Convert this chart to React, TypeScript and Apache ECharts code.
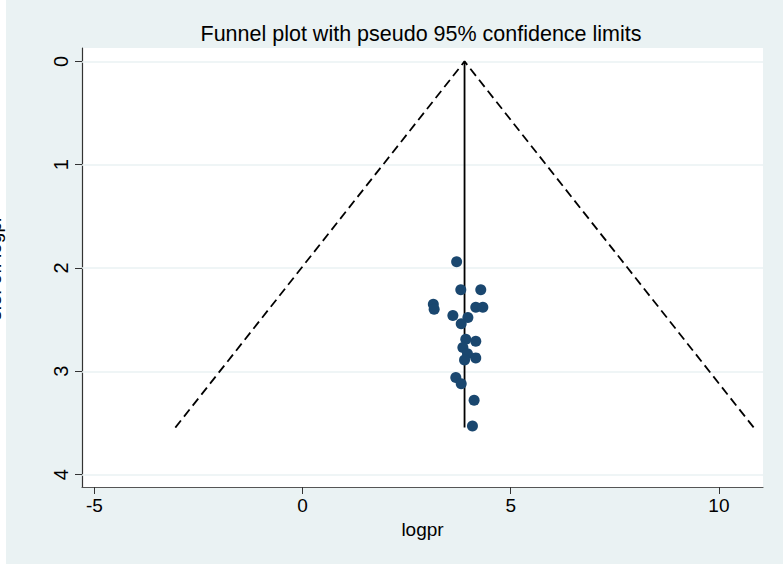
import React, { useEffect, useRef } from "react";
import * as echarts from "echarts";

const logpr = [3.70, 3.80, 4.28, 3.14, 3.16, 4.16, 4.33, 3.61, 3.97, 3.81, 3.92, 4.16, 3.85, 3.96, 3.89, 4.16, 3.68, 3.81, 4.12, 4.08];
const seLogpr = [1.94, 2.21, 2.21, 2.35, 2.40, 2.38, 2.38, 2.46, 2.48, 2.54, 2.69, 2.71, 2.77, 2.83, 2.89, 2.87, 3.06, 3.12, 3.28, 3.53];
const pooled = 3.89;
const seMax = 3.545;
const z95 = 1.96;
const xTicks = [-5, 0, 5, 10];
const yTicks = [0, 1, 2, 3, 4];

export default function App() {
  const ref = useRef<HTMLDivElement>(null);
  useEffect(() => {
    document.body.style.margin = "0";
    const chart = echarts.init(ref.current!, null, { renderer: "svg" });
    const font = "'Liberation Sans', Arial, sans-serif";
    const points = logpr.map((x, i) => [x, seLogpr[i]]);
    const funnel = [
      [pooled - z95 * seMax, seMax],
      [pooled, 0],
      [pooled + z95 * seMax, seMax],
    ];
    chart.setOption({
      animation: false,
      backgroundColor: "#ffffff",
      graphic: [
        { type: "rect", z: -10, shape: { x: 6, y: 0, width: 777, height: 564 }, style: { fill: "#EAF2F3" } },
        { type: "rect", z: -9, shape: { x: 82, y: 48, width: 681, height: 439 }, style: { fill: "#ffffff" } },
        {
          type: "text", x: 421, y: 34,
          style: { text: "Funnel plot with pseudo 95% confidence limits", font: `21.5px ${font}`, fill: "#000", textAlign: "center", textVerticalAlign: "middle" },
        },
        {
          type: "text", x: -6, y: 268, rotation: Math.PI / 2,
          style: { text: "s.e. of: logpr", font: `19px ${font}`, fill: "#000", textAlign: "center", textVerticalAlign: "middle" },
        },
      ],
      grid: { left: 82, right: 20, top: 48, bottom: 77, containLabel: false },
      xAxis: {
        type: "value",
        min: -5.3,
        max: 11.06,
        name: "logpr",
        nameLocation: "middle",
        nameGap: 33,
        nameTextStyle: { fontFamily: font, fontSize: 19, color: "#000" },
        axisLine: { show: true, onZero: false, lineStyle: { color: "#555", width: 1.2 } },
        axisTick: { show: true, length: 7, customValues: xTicks, lineStyle: { color: "#333" } },
        axisLabel: { customValues: xTicks, fontFamily: font, fontSize: 19, color: "#000", margin: 9 },
        splitLine: { show: false },
      },
      yAxis: {
        type: "value",
        inverse: true,
        min: -0.13,
        max: 4.12,
        axisLine: { show: true, onZero: false, lineStyle: { color: "#333", width: 1.2 } },
        axisTick: { show: true, length: 7, customValues: yTicks, lineStyle: { color: "#333" } },
        axisLabel: { customValues: yTicks, rotate: 90, fontFamily: font, fontSize: 20, color: "#000", margin: 11 },
        splitLine: { show: false },
      },
      series: [
        {
          type: "line",
          data: funnel,
          symbol: "none",
          lineStyle: { color: "#000", width: 1.8, type: [9, 5] },
          markLine: {
            silent: true,
            symbol: "none",
            label: { show: false },
            lineStyle: { color: "#EAF2F3", width: 1.5, type: "solid" },
            data: yTicks.map((v) => ({ yAxis: v })),
            z: 1,
          },
          z: 3,
        },
        {
          type: "line",
          data: [[pooled, 0], [pooled, seMax]],
          symbol: "none",
          lineStyle: { color: "#000", width: 1.8 },
          z: 4,
        },
        {
          type: "scatter",
          data: points,
          symbolSize: 11,
          itemStyle: { color: "#1A476F", opacity: 1 },
          z: 5,
        },
      ],
    });
    return () => chart.dispose();
  }, []);
  return <div ref={ref} style={{ width: 783, height: 564, position: "fixed", left: 0, top: 0 }} />;
}
